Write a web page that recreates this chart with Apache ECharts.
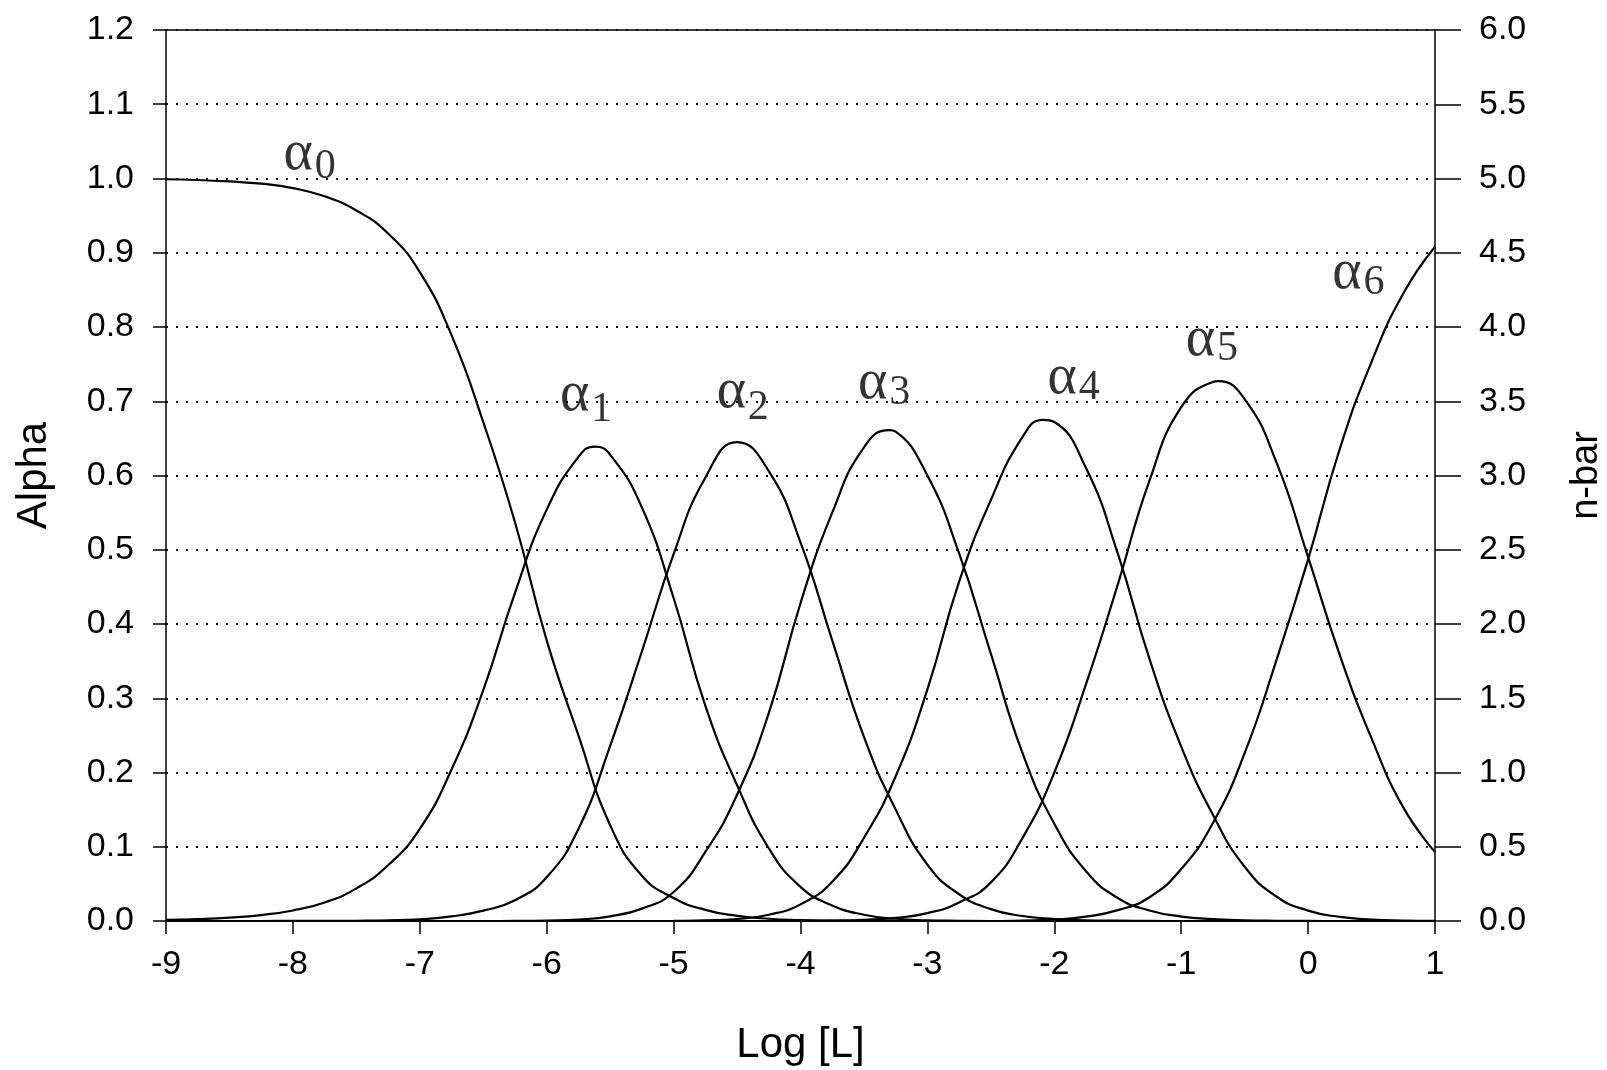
<!DOCTYPE html>
<html>
<head>
<meta charset="utf-8">
<script src="https://cdn.jsdelivr.net/npm/echarts@6/dist/echarts.min.js"></script>
<style>html,body{margin:0;padding:0;background:#fff}#chart{width:1607px;height:1070px}</style>
</head>
<body>
<div id="chart"></div>
<script>
// Log [L] sample positions
const logL = [-9, -8.75, -8.5, -8.25, -8, -7.75, -7.5, -7.25, -7, -6.75, -6.5, -6.25, -6, -5.75, -5.5, -5.25,
  -5, -4.75, -4.5, -4.25, -4, -3.75, -3.5, -3.25, -3, -2.75, -2.5, -2.25, -2, -1.75, -1.5, -1.25,
  -1, -0.75, -0.5, -0.25, 0, 0.25, 0.5, 0.75, 1];

// species fractions
const alpha0 = [0.999, 0.998, 0.996, 0.993, 0.987, 0.976, 0.957, 0.926, 0.874, 0.789, 0.672, 0.537, 0.378, 0.25, 0.129, 0.061,
  0.031, 0.015, 0.007, 0.003, 0.0013, 0.0005, 0.0002, 0, 0, 0, 0, 0, 0, 0, 0, 0,
  0, 0, 0, 0, 0, 0, 0, 0, 0];
const alpha1 = [0.0014, 0.0025, 0.0045, 0.008, 0.0142, 0.025, 0.044, 0.075, 0.124, 0.204, 0.311, 0.442, 0.554, 0.625, 0.628, 0.557,
  0.435, 0.29, 0.183, 0.098, 0.046, 0.021, 0.0084, 0.003, 0.001, 0.0003, 0, 0, 0, 0, 0, 0,
  0, 0, 0, 0, 0, 0, 0, 0, 0];
const alpha2 = [0, 0, 0, 0, 0.0001, 0.0001, 0.0003, 0.0008, 0.0023, 0.0062, 0.014, 0.028, 0.059, 0.124, 0.236, 0.363,
  0.494, 0.597, 0.645, 0.606, 0.51, 0.378, 0.248, 0.15, 0.076, 0.036, 0.016, 0.0067, 0.0027, 0.001, 0.0004, 0.0001,
  0, 0, 0, 0, 0, 0, 0, 0, 0];
const alpha3 = [0, 0, 0, 0, 0, 0, 0, 0, 0, 0, 0, 0.0001, 0.0006, 0.002, 0.0063, 0.0167,
  0.039, 0.093, 0.17, 0.28, 0.428, 0.55, 0.638, 0.659, 0.6, 0.495, 0.36, 0.226, 0.131, 0.067, 0.031, 0.0142,
  0.006, 0.0024, 0.0009, 0.0003, 0.0001, 0, 0, 0, 0];
const alpha4 = [0, 0, 0, 0, 0, 0, 0, 0, 0, 0, 0, 0, 0, 0, 0, 0,
  0.0002, 0.0008, 0.0027, 0.0084, 0.0224, 0.053, 0.112, 0.195, 0.312, 0.457, 0.567, 0.652, 0.672, 0.61, 0.495, 0.353,
  0.235, 0.143, 0.073, 0.033, 0.014, 0.0055, 0.002, 0.0007, 0.0002];
const alpha5 = [0, 0, 0, 0, 0, 0, 0, 0, 0, 0, 0, 0, 0, 0, 0, 0,
  0, 0, 0, 0, 0.0002, 0.0006, 0.0016, 0.0042, 0.0106, 0.025, 0.052, 0.112, 0.2, 0.319, 0.453, 0.593,
  0.692, 0.726, 0.703, 0.618, 0.49, 0.358, 0.246, 0.153, 0.093];
const alpha6 = [0, 0, 0, 0, 0, 0, 0, 0, 0, 0, 0, 0, 0, 0, 0, 0,
  0, 0, 0, 0, 0, 0, 0, 0, 0, 0, 0, 0.0007, 0.002, 0.0058, 0.0146, 0.032,
  0.07, 0.132, 0.226, 0.351, 0.487, 0.636, 0.753, 0.845, 0.908];

// peak maxima (null = already on the grid)
const peakX = [null, -5.62, null, -3.30, -2.09, -0.71, null];
const peakY = [null, 0.639, null, 0.661, 0.675, 0.727, null];

// curve labels
const curveNames = ['α0', 'α1', 'α2', 'α3', 'α4', 'α5', 'α6'];
const subDigits = ['0', '1', '2', '3', '4', '5', '6'];

// axis ticks
const leftTicks = { min: 0, max: 1.2, step: 0.1 };
const rightTicks = { min: 0, max: 6, step: 0.5 };
const xTicks = { min: -9, max: 1, step: 1 };

// label anchor points (data coordinates) and subscript drops, layout only
const labelAt = [[-7.958, 1.032], [-5.78, 0.708], [-4.545, 0.712], [-3.431, 0.724], [-1.938, 0.731], [-0.848, 0.782], [0.306, 0.872]];
const subDrop = [12, 15, 16, 10, 10, 9, 9];

const allAlpha = [alpha0, alpha1, alpha2, alpha3, alpha4, alpha5, alpha6];

function buildData(vals, i) {
  const d = logL.map((x, k) => [x, vals[k]]);
  if (peakX[i] !== null) d.push([peakX[i], peakY[i]]);
  d.sort((a, b) => a[0] - b[0]);
  return d;
}

const sans = '"Liberation Sans", Arial, sans-serif';
const serif = '"Liberation Serif", "Times New Roman", serif';

const lineSeries = allAlpha.map((vals, i) => ({
  name: curveNames[i],
  type: 'line',
  data: buildData(vals, i),
  showSymbol: false,
  smooth: 0.5,
  silent: true,
  z: 3,
  lineStyle: { color: '#000', width: 2.2 }
}));

const chart = echarts.init(document.getElementById('chart'), null, { renderer: 'canvas' });
chart.setOption({
  animation: false,
  backgroundColor: '#fff',
  grid: { left: 166, right: 172, top: 30, bottom: 149, containLabel: false, outerBoundsMode: 'none' },
  xAxis: [{
    type: 'value', min: xTicks.min, max: xTicks.max, interval: xTicks.step, position: 'bottom',
    axisLine: { show: true, onZero: false, lineStyle: { color: '#000', width: 1.5 } },
    axisTick: { show: true, length: 13, lineStyle: { color: '#000', width: 1.5 } },
    axisLabel: { fontSize: 34, color: '#000', margin: 27, fontFamily: sans },
    splitLine: { show: false },
    name: 'Log [L]', nameLocation: 'middle', nameGap: 103,
    nameTextStyle: { fontSize: 42, color: '#000', fontFamily: sans }
  }, {
    type: 'value', min: xTicks.min, max: xTicks.max, position: 'top',
    axisLine: { show: true, onZero: false, lineStyle: { color: '#000', width: 1.5 } },
    axisTick: { show: false }, axisLabel: { show: false }, splitLine: { show: false }
  }],
  yAxis: [{
    type: 'value', min: leftTicks.min, max: leftTicks.max, interval: leftTicks.step, position: 'left',
    axisLine: { show: true, onZero: false, lineStyle: { color: '#000', width: 1.5 } },
    axisTick: { show: true, length: 13, lineStyle: { color: '#000', width: 1.5 } },
    axisLabel: { fontSize: 34, color: '#000', margin: 32, fontFamily: sans, formatter: v => v.toFixed(1) },
    splitLine: { show: true, lineStyle: { color: '#111', width: 2, type: [2, 8] } },
    name: 'Alpha', nameLocation: 'middle', nameGap: 111,
    nameTextStyle: { fontSize: 42, color: '#000', fontFamily: sans }
  }, {
    type: 'value', min: rightTicks.min, max: rightTicks.max, interval: rightTicks.step, position: 'right',
    axisLine: { show: true, onZero: false, lineStyle: { color: '#000', width: 1.5 } },
    axisTick: { show: true, length: 26, lineStyle: { color: '#000', width: 1.5 } },
    axisLabel: { fontSize: 34, color: '#000', margin: 44, fontFamily: sans, formatter: v => v.toFixed(1) },
    splitLine: { show: false },
    name: 'n-bar', nameLocation: 'middle', nameGap: 133, nameRotate: 90,
    nameTextStyle: { fontSize: 38, color: '#000', fontFamily: sans }
  }],
  series: lineSeries.concat([{
    type: 'scatter', data: labelAt, symbolSize: 0, silent: true, z: 5,
    label: { show: true, position: 'inside', formatter: 'α', fontSize: 56, color: '#000', fontFamily: serif }
  }, {
    type: 'scatter', symbolSize: 0, silent: true, z: 5,
    data: labelAt.map((p, i) => ({
      value: p,
      label: { offset: [27, subDrop[i]] }
    })),
    label: { show: true, position: 'inside', fontSize: 42, color: '#000', fontFamily: serif,
      formatter: p => subDigits[p.dataIndex] }
  }])
});
</script>
</body>
</html>
